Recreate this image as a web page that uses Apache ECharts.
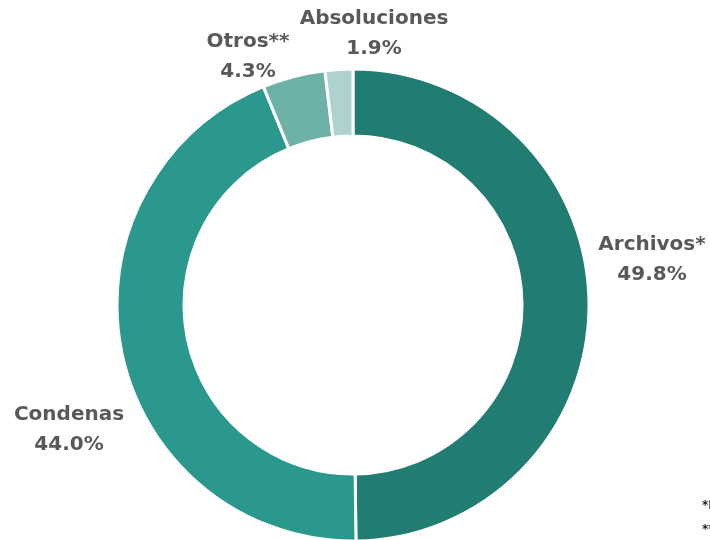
<!DOCTYPE html>
<html><head><meta charset="utf-8">
<script src="https://cdn.jsdelivr.net/npm/echarts@6/dist/echarts.min.js"></script>
<style>html,body{margin:0;padding:0;background:#fff}#c{width:710px;height:540px}</style>
</head><body><div id="c"></div>
<script>
const categories = ['Archivos*', 'Condenas', 'Otros**', 'Absoluciones'];
const values = [49.8, 44.0, 4.3, 1.9];
const colors = ['#217C72', '#2A988C', '#6EB1A9', '#AED3CE'];
const labelPos = [[652, 260], [69, 430], [248, 57], [374, 34]];

const chart = echarts.init(document.getElementById('c'), null, {renderer: 'canvas'});
chart.setOption({
  animation: false,
  backgroundColor: '#fff',
  series: [{
    type: 'pie',
    center: [353, 305],
    radius: [169, 236],
    startAngle: 90,
    clockwise: true,
    data: categories.map((n, i) => ({name: n, value: values[i], itemStyle: {color: colors[i]}})),
    itemStyle: {borderColor: '#fff', borderWidth: 3},
    label: {
      show: true,
      position: 'outside',
      overflow: 'none',
      edgeDistance: 0,
      formatter: p => p.name + '\n' + p.value.toFixed(1) + '%',
      fontFamily: 'DejaVu Sans',
      fontWeight: 'bold',
      fontSize: 20,
      lineHeight: 30,
      color: '#595959',
      align: 'center'
    },
    labelLine: {show: false},
    labelLayout: p => ({x: labelPos[p.dataIndex][0], y: labelPos[p.dataIndex][1], align: 'center', verticalAlign: 'middle', width: 300})
  }],
  graphic: [
    {type: 'text', left: 702, top: 500, style: {text: '*Incluye', fontSize: 12, fontWeight: 'bold', fill: '#222', fontFamily: 'DejaVu Sans'}},
    {type: 'text', left: 702, top: 524, style: {text: '**Incluye', fontSize: 12, fontWeight: 'bold', fill: '#222', fontFamily: 'DejaVu Sans'}}
  ]
});
</script></body></html>
